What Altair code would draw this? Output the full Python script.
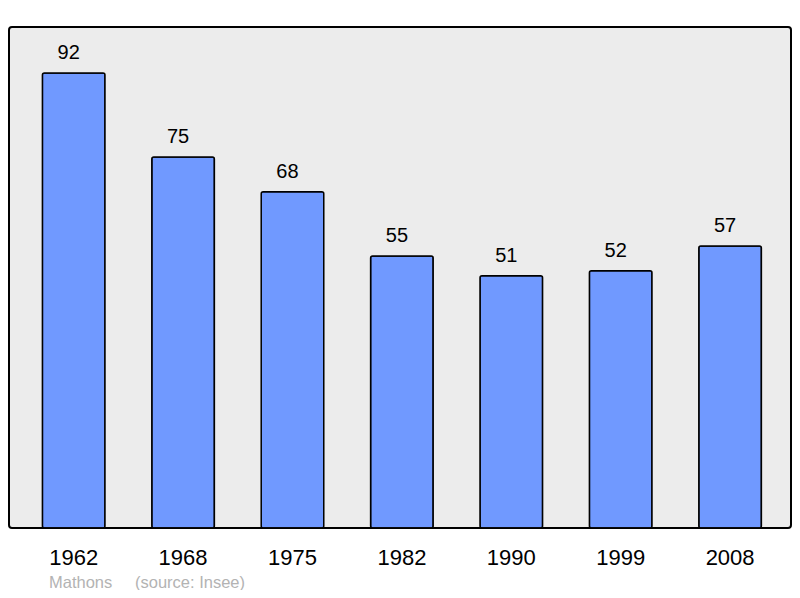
import altair as alt
import pandas as pd

years = ["1962", "1968", "1975", "1982", "1990", "1999", "2008"]
population = [92, 75, 68, 55, 51, 52, 57]
footer_texts = ["Mathons", "(source: Insee)"]
footer_x = [40, 126]

df = pd.DataFrame({"year": years, "pop": population})
foot = pd.DataFrame({"t": footer_texts, "px": footer_x})

x = alt.X("year:N", sort=years, title=None,
          scale=alt.Scale(paddingInner=0.428, paddingOuter=0.288, align=0.53),
          axis=alt.Axis(domain=False, ticks=False, labelAngle=0, labelFont="Liberation Sans",
                        labelFontSize=22, labelColor="#000000", labelPadding=19))
y = alt.Y("pop:Q", title=None, scale=alt.Scale(domain=[0, 101.3], nice=False, zero=True),
          axis=None)

bars = alt.Chart(df).mark_bar(color="#7099ff", stroke="#000000", strokeWidth=1.5,
                              cornerRadius=2).encode(x=x, y=y)
labels = alt.Chart(df).mark_text(baseline="bottom", dy=-10, dx=-5, font="Liberation Sans",
                                 fontSize=20, color="#000000").encode(
    x=x, y=y, text="pop:Q")
footer = alt.Chart(foot).mark_text(align="left", baseline="middle", font="Liberation Sans",
                                   fontSize=16.5, color="#b3b3b3").encode(
    x=alt.X("px:Q", scale=None), y=alt.value(556), text="t:N")

chart = alt.layer(bars, labels, footer).properties(
    width=782, height=501,
    autosize=alt.AutoSizeParams(type="none"),
    padding={"left": 1, "top": 19, "right": 1, "bottom": 62},
    background="#ffffff",
).configure_view(
    fill="#ececec", stroke="#000000", strokeWidth=2, cornerRadius=3
)

chart.save("out.html", embed_options={"renderer": "svg", "actions": False})
